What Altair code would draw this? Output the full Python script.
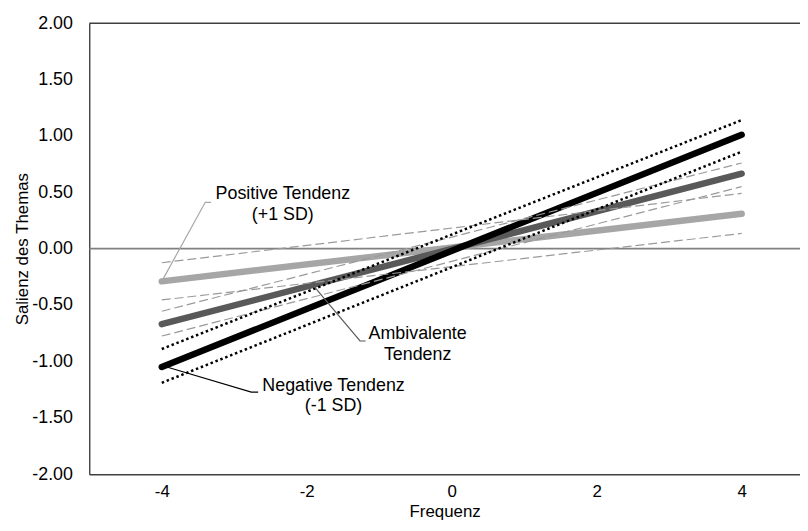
import altair as alt
import pandas as pd

FONT = "Liberation Sans"

# --- data ---
freq = [-4, 4]
neg_y = [-1.05, 1.01]      # Negative Tendenz (-1 SD), black
amb_y = [-0.67, 0.665]     # Ambivalente Tendenz, dark gray
pos_y = [-0.29, 0.31]      # Positive Tendenz (+1 SD), light gray
neg_hi = [-0.89, 1.14]     # dotted bounds around black line
neg_lo = [-1.19, 0.86]
amb_hi = [-0.555, 0.76]    # dashed bounds around dark gray line
amb_lo = [-0.775, 0.55]
pos_hi = [-0.125, 0.49]    # dashed bounds around light gray line
pos_lo = [-0.455, 0.135]

y_ticks = [-2.0, -1.5, -1.0, -0.5, 0.0, 0.5, 1.0, 1.5, 2.0]
x_ticks = [-4, -2, 0, 2, 4]

label_texts = ["Positive Tendenz\n(+1 SD)", "Ambivalente\nTendenz", "Negative Tendenz\n(-1 SD)"]
label_x = [-2.33, -0.47, -1.63]
label_y = [0.441, -0.80, -1.259]

pos_leader_x = [-4.0, -3.40, -3.32]
pos_leader_y = [-0.29, 0.411, 0.411]
amb_leader_x = [-1.92, -1.265, -1.187]
amb_leader_y = [-0.32, -0.819, -0.819]
neg_leader_x = [-3.93, -2.765, -2.67]
neg_leader_y = [-1.05, -1.273, -1.273]

# --- encodings ---
x_axis = alt.Axis(
    values=x_ticks, ticks=False, grid=False, labelFlush=False,
    labelExpr="replace(format(datum.value, 'd'), '\u2212', '-')",
    labelFont=FONT, labelFontSize=17, labelColor="black", labelPadding=10,
    title="Frequenz", titleFont=FONT, titleFontSize=17, titleFontWeight="normal",
    titleColor="black", titleY=43, titleBaseline="alphabetic",
    domainColor="#404040", domainWidth=1.5,
)
y_axis = alt.Axis(
    values=y_ticks, ticks=False, grid=False,
    labelExpr="replace(format(datum.value, '.2f'), '\u2212', '-')",
    labelFont=FONT, labelFontSize=18, labelColor="black", labelPadding=17,
    title="Salienz des Themas", titleFont=FONT, titleFontSize=17,
    titleFontWeight="normal", titleColor="black", titlePadding=0,
    domainColor="#202020", domainWidth=1.2,
)
x_enc = alt.X("x:Q", scale=alt.Scale(domain=[-5, 4.805], nice=False, zero=False), axis=x_axis)
y_enc = alt.Y("y:Q", scale=alt.Scale(domain=[-2, 2], nice=False, zero=False), axis=y_axis)


def line_layer(xs, ys, color, width, dash=None, cap="butt"):
    df = pd.DataFrame({"x": xs, "y": ys, "o": list(range(len(xs)))})
    kw = dict(color=color, strokeWidth=width, strokeCap=cap)
    if dash:
        kw["strokeDash"] = dash
    return alt.Chart(df).mark_line(**kw).encode(x=x_enc, y=y_enc, order="o:Q")


zero_rule = alt.Chart(pd.DataFrame({"y": [0.0]})).mark_rule(
    color="#808080", strokeWidth=1.8).encode(y=y_enc)
top_rule = alt.Chart(pd.DataFrame({"y": [2.0]})).mark_rule(
    color="#404040", strokeWidth=1.5).encode(y=y_enc)

LIGHT = "#a6a6a6"
DARK = "#595959"
DASHC = "#9a9a9a"

layers = [
    zero_rule,
    top_rule,
    line_layer(freq, pos_y, LIGHT, 6.5, cap="round"),
    line_layer(freq, amb_y, DARK, 6.5, cap="round"),
    line_layer(freq, neg_y, "black", 6.5, cap="round"),
    line_layer(freq, pos_hi, DASHC, 1.2, dash=[9, 4]),
    line_layer(freq, pos_lo, DASHC, 1.2, dash=[9, 4]),
    line_layer(freq, amb_hi, DASHC, 1.2, dash=[9, 4]),
    line_layer(freq, amb_lo, DASHC, 1.2, dash=[9, 4]),
    line_layer(freq, neg_hi, "black", 2.5, dash=[2.5, 2.8]),
    line_layer(freq, neg_lo, "black", 2.5, dash=[2.5, 2.8]),
    line_layer(pos_leader_x, pos_leader_y, LIGHT, 1.2),
    line_layer(amb_leader_x, amb_leader_y, DARK, 1.2),
    line_layer(neg_leader_x, neg_leader_y, "black", 1.2),
]

labels_df = pd.DataFrame({"x": label_x, "y": label_y, "t": label_texts})
text_layer = alt.Chart(labels_df).mark_text(
    align="center", baseline="alphabetic", lineBreak="\n", lineHeight=21,
    font=FONT, fontSize=18, color="black",
).encode(x=x_enc, y=y_enc, text="t:N")
layers.append(text_layer)

chart = alt.layer(*layers).properties(
    width=717, height=455,
    autosize=alt.AutoSizeParams(type="none"),
    padding={"left": 82, "top": 13, "right": 0, "bottom": 47},
    background="white",
).configure_view(stroke=None)

chart.save("out.html", embed_options={"renderer": "svg", "actions": False})
